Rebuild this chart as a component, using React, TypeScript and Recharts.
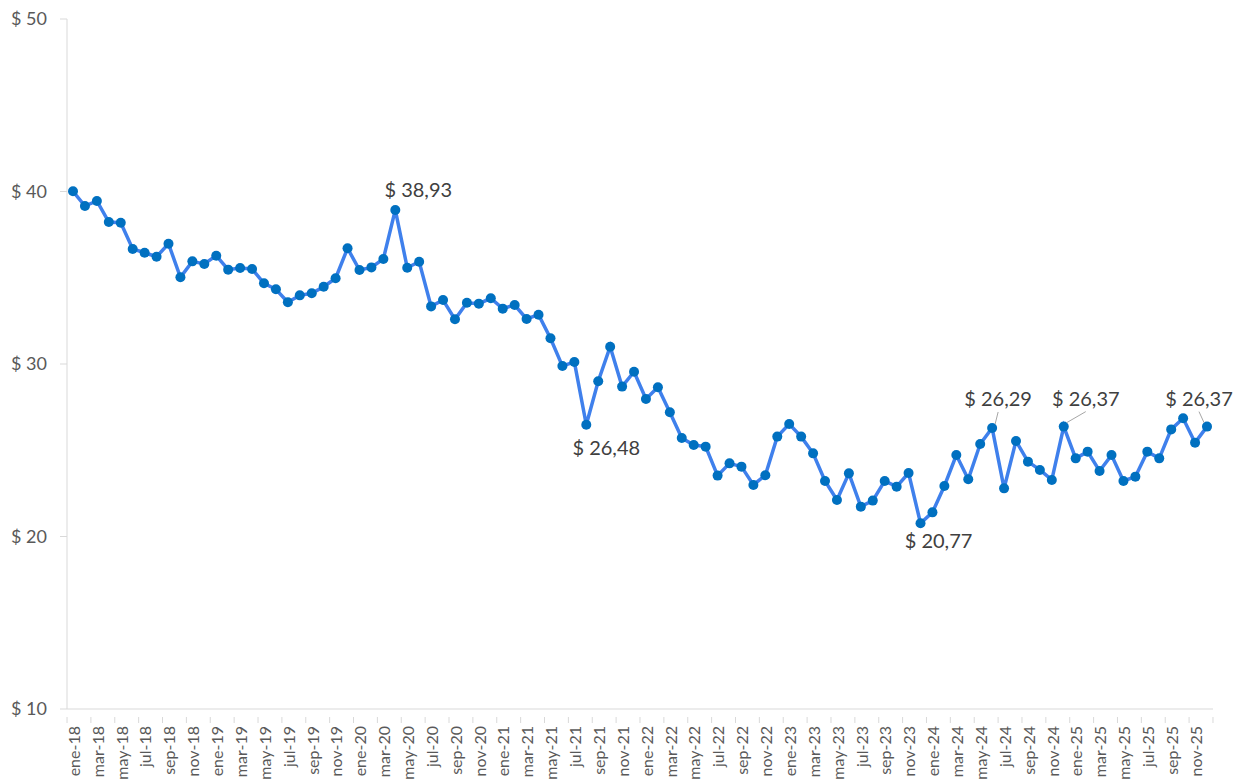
import { LineChart, Line, XAxis, YAxis, LabelList } from "recharts";

const MONTHS = ["ene", "feb", "mar", "abr", "may", "jun", "jul", "ago", "sep", "oct", "nov", "dic"];
const YEARS = ["18", "19", "20", "21", "22", "23", "24", "25"];

const categories = YEARS.flatMap((y) => MONTHS.map((m) => `${m}-${y}`));

const prices = [
  40.01, 39.16, 39.45, 38.23, 38.19, 36.67, 36.45, 36.22, 36.97, 35.03, 35.95, 35.8,
  36.28, 35.47, 35.57, 35.51, 34.68, 34.33, 33.58, 33.98, 34.1, 34.48, 34.97, 36.71,
  35.45, 35.6, 36.09, 38.93, 35.58, 35.93, 33.34, 33.71, 32.59, 33.55, 33.5, 33.81,
  33.21, 33.42, 32.61, 32.86, 31.49, 29.88, 30.12, 26.48, 29.0, 31.0, 28.69, 29.55,
  27.97, 28.65, 27.2, 25.71, 25.3, 25.21, 23.53, 24.24, 24.05, 22.99, 23.55, 25.79,
  26.52, 25.79, 24.82, 23.22, 22.12, 23.66, 21.73, 22.08, 23.22, 22.89, 23.68, 20.77,
  21.4, 22.93, 24.72, 23.32, 25.36, 26.29, 22.79, 25.54, 24.34, 23.86, 23.28, 26.37,
  24.53, 24.92, 23.8, 24.72, 23.22, 23.47, 24.92, 24.53, 26.21, 26.85, 25.44, 26.37,
];

const yTicks = [10, 20, 30, 40, 50];

// months that carry a value label
const labeled = ["abr-20", "ago-21", "dic-23", "jun-24", "dic-24", "dic-25"];

// label placement relative to the point: text centre offset, leader line or not
const labelPos: Record<string, { dx: number; dy: number; leader: boolean }> = {
  "abr-20": { dx: 23, dy: -20, leader: false },
  "ago-21": { dx: 20, dy: 23, leader: false },
  "dic-23": { dx: 18, dy: 18, leader: false },
  "jun-24": { dx: 6, dy: -29, leader: true },
  "dic-24": { dx: 22, dy: -28, leader: true },
  "dic-25": { dx: -8, dy: -28, leader: true },
};

const data = categories.map((month, i) => ({ month, price: prices[i] }));

const AXIS = "#d9d9d9";
const FONT = "Lato, 'Open Sans', sans-serif";

const fmt = (v: number) => `$ ${v.toFixed(2).replace(".", ",")}`;

const MonthTick = (props: any) => {
  const { x, y, payload } = props;
  const half = 5.97;
  return (
    <g>
      <line x1={x - half} y1={y} x2={x - half} y2={y + 6} stroke={AXIS} />
      {payload.value === "nov-25" && (
        <line x1={x + half * 3} y1={y} x2={x + half * 3} y2={y + 6} stroke={AXIS} />
      )}
      <text
        x={0}
        y={0}
        transform={`translate(${x + 1},${y + 9}) rotate(-90)`}
        textAnchor="end"
        dy="0.36em"
        fill="#595959"
        fontSize={16}
        fontFamily={FONT}
      >
        {payload.value}
      </text>
    </g>
  );
};

const PriceLabel = (props: any) => {
  const { x, y, value, index } = props;
  const month = categories[index];
  if (!labeled.includes(month)) return null;
  const p = labelPos[month];
  const tx = x + p.dx;
  const ty = y + p.dy;
  return (
    <g>
      {p.leader && (
        <line
          x1={tx}
          y1={ty + 13}
          x2={x + (tx > x ? 3 : -3)}
          y2={y - 4}
          stroke="#a6a6a6"
          strokeWidth={1}
        />
      )}
      <text
        x={tx}
        y={ty}
        textAnchor="middle"
        dy="0.36em"
        fill="#404040"
        fontSize={20}
        fontFamily={FONT}
      >
        {fmt(value)}
      </text>
    </g>
  );
};

export default function App() {
  return (
    <div style={{ position: "absolute", left: 0, top: 0, background: "#fff" }}>
      <LineChart
        width={1234}
        height={782}
        data={data}
        margin={{ top: 19, right: 21, bottom: 0, left: 0 }}
      >
        <XAxis
          dataKey="month"
          interval={1}
          height={73}
          padding={{ left: 6, right: 6 }}
          stroke={AXIS}
          tickLine={false}
          tick={<MonthTick />}
        />
        <YAxis
          domain={[10, 50]}
          ticks={yTicks}
          width={67}
          stroke={AXIS}
          tickSize={7}
          tickMargin={13}
          tickFormatter={(v: number) => `$ ${v}`}
          tick={{ fill: "#595959", fontSize: 18, fontFamily: FONT }}
        />
        <Line
          dataKey="price"
          stroke="#3F80EC"
          strokeWidth={3.5}
          dot={{ r: 5, fill: "#0070C0", stroke: "#0070C0", strokeWidth: 0 }}
          activeDot={false}
          isAnimationActive={false}
        >
          <LabelList dataKey="price" content={<PriceLabel />} />
        </Line>
      </LineChart>
    </div>
  );
}
